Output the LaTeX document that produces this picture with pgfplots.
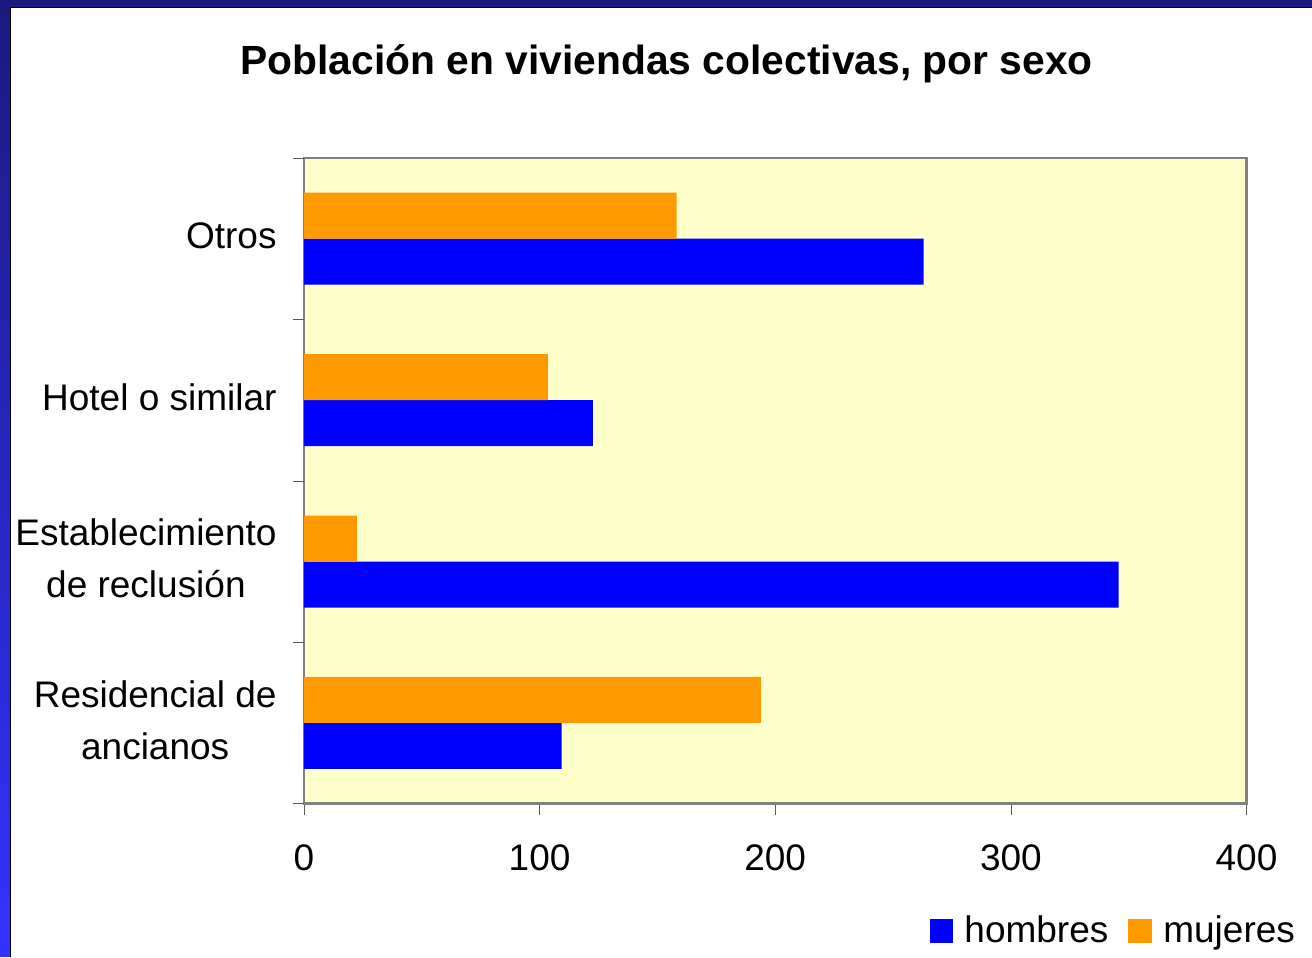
\documentclass[border=0pt]{standalone}
\usepackage{pgfplots}
\pgfplotsset{compat=1.18}
\usepackage{fontspec}
\setmainfont{Liberation Sans}
\definecolor{navyb}{RGB}{26,26,128}
\definecolor{brightb}{RGB}{51,51,255}
\definecolor{plotbg}{RGB}{255,255,204}
\definecolor{hblue}{RGB}{0,0,255}
\definecolor{morange}{RGB}{255,153,0}
\begin{document}
\begin{tikzpicture}
\fill[white] (0,0) rectangle (656pt,478.5pt);
\shade[top color=navyb, bottom color=brightb] (0,0) rectangle (5.5pt,478.5pt);
\fill[navyb] (0,474.5pt) rectangle (656pt,478.5pt);
\draw[black, line width=0.5pt] (5.5pt,0) -- (5.5pt,474.5pt) -- (656pt,474.5pt);
\node[font=\fontsize{20.4}{24}\selectfont\bfseries] at (333.5pt,446.5pt) {Población en viviendas colectivas, por sexo};
\begin{axis}[
  at={(152pt,76.5pt)}, anchor=south west,
  width=471.5pt, height=323pt, scale only axis,
  xbar, bar width=0.285,
  xmin=0, xmax=400, ymin=-0.5, ymax=3.5,
  xtick={0,100,200,300,400},
  ytick={0,1,2,3},
  yticklabels={Residencial de\\ancianos, Establecimiento\\de reclusión, Hotel o similar, Otros},
  ytick style={draw=none},
  extra y ticks={-0.5,0.5,1.5,2.5,3.5},
  extra y tick labels={},
  extra y tick style={ytick style={draw=gray!70!black}},
  tick align=outside, tick pos=left, major tick length=5.5pt,
  xtick style={draw=gray!70!black},
  axis background/.style={fill=plotbg},
  axis line style={draw=gray, line width=1.2pt},
  tick label style={font=\fontsize{18.5}{26}\selectfont},
  /pgf/number format/assume math mode=true,
  yticklabel style={align=center, inner sep=0pt, xshift=-8pt, yshift=1.5pt},
  xticklabel style={inner sep=0pt, yshift=-15pt},
  legend columns=2,
  legend style={at={(1.056,-0.1966)}, anchor=east, draw=none, fill=none,
    font=\fontsize{18.5}{22}\selectfont, inner sep=0pt,
    /tikz/every odd column/.append style={column sep=3.5pt},
    /tikz/every even column/.append style={column sep=8pt}},
  legend image code/.code={\fill[#1] (0pt,-6pt) rectangle (12pt,6pt);},
]
\addplot[fill=hblue, draw=none, bar shift=-0.1425] coordinates {(109.4,0) (345.7,1) (122.6,2) (263,3)};
\addplot[fill=morange, draw=none, bar shift=0.1425] coordinates {(193.9,0) (22.5,1) (103.5,2) (158.2,3)};
\legend{hombres, mujeres}
\end{axis}
\end{tikzpicture}
\end{document}
